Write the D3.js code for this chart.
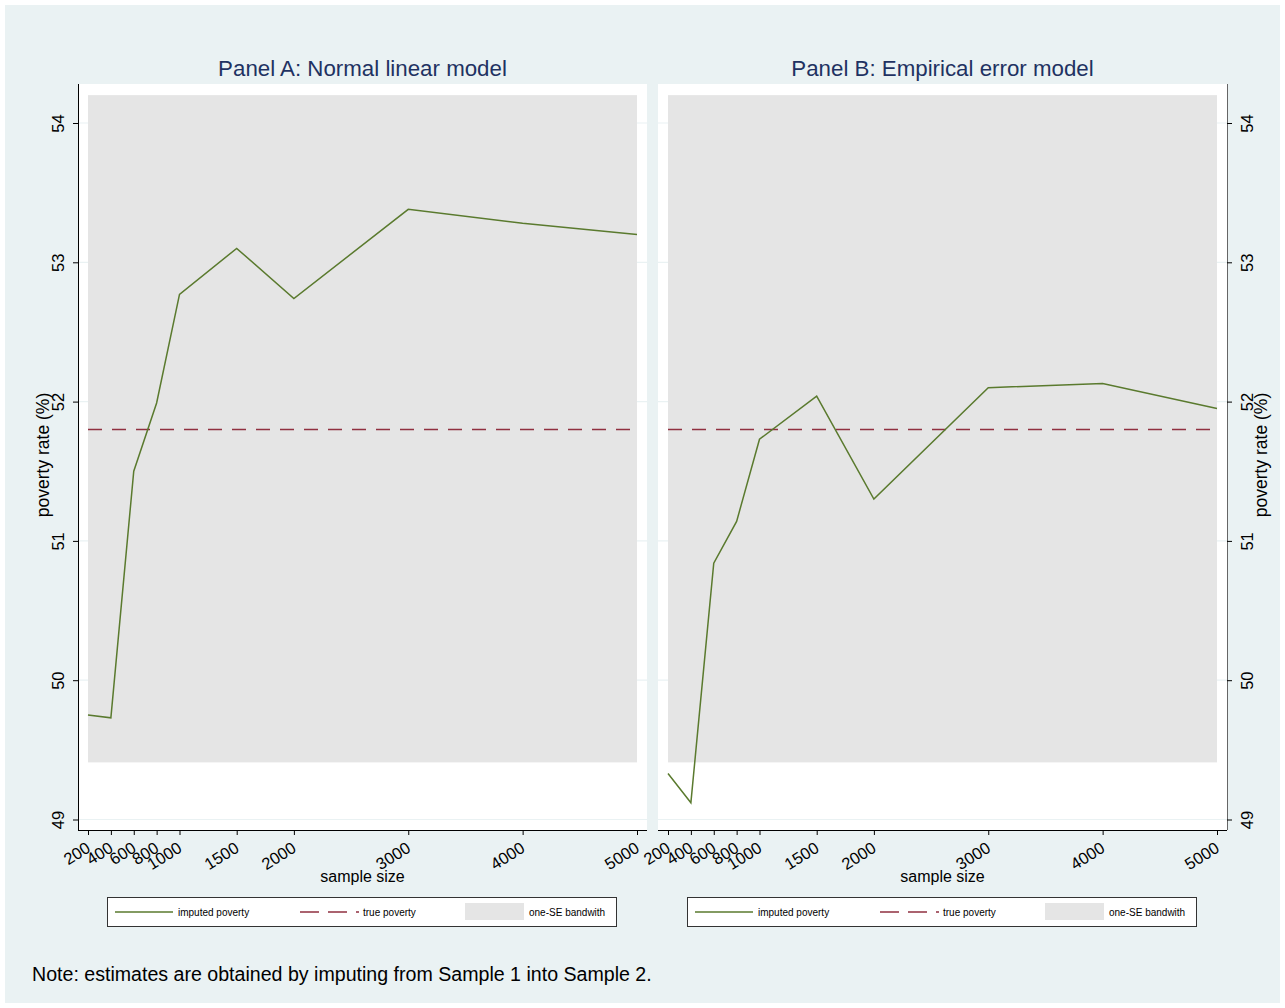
<html lang="en">
<head>
<meta charset="UTF-8">
<title>Imputed poverty by sample size</title>
<script src="https://d3js.org/d3.v7.min.js"></script>
<style>
  body { margin: 0; background: #fff; font-family: "Liberation Sans", Arial, sans-serif; }
</style>
</head>
<body>
<div id="chart"></div>
<script>

// values
const sampleSizes = [200, 400, 600, 800, 1000, 1500, 2000, 3000, 4000, 5000];
const panelA = [49.75, 49.73, 51.50, 51.99, 52.77, 53.10, 52.74, 53.38, 53.28, 53.20];
const panelB = [49.33, 49.12, 50.84, 51.14, 51.73, 52.04, 51.30, 52.10, 52.13, 51.95];
const yTicks = [49, 50, 51, 52, 53, 54];
const truePoverty = 51.8;
const band = [49.41, 54.2];
const panelTitles = ["Panel A: Normal linear model", "Panel B: Empirical error model"];
const legendLabels = ["imputed poverty", "true poverty", "one-SE bandwith"];

const green = "#5a7a2e", maroon = "#903040", bandGrey = "#e5e5e5", bg = "#eaf2f3";

const svg = d3.select("#chart").append("svg")
  .attr("width", 1285)
  .attr("height", 1008);

svg.append("rect")
  .attr("x", 5).attr("y", 5)
  .attr("width", 1275).attr("height", 998)
  .attr("fill", bg);

function drawPanel(i, values, left, right, axisSide) {
  // plot region box
  const top = 84, bottom = 830;
  const x = d3.scaleLinear().domain([200, 5000]).range([left + 10, right - 10]);
  const y = d3.scaleLinear().domain([49, 54]).range([819.5, 123]);

  const g = svg.append("g");

  g.append("rect")
    .attr("x", left).attr("y", top)
    .attr("width", right - left).attr("height", bottom - top)
    .attr("fill", "#fff");

  // grid
  g.selectAll(".grid").data(yTicks).enter().append("line")
    .attr("x1", left).attr("x2", right)
    .attr("y1", d => y(d)).attr("y2", d => y(d))
    .attr("stroke", bg).attr("stroke-width", 1.2);

  // one-SE band
  g.append("rect")
    .attr("x", x(200)).attr("y", y(band[1]))
    .attr("width", x(5000) - x(200)).attr("height", y(band[0]) - y(band[1]))
    .attr("fill", bandGrey);

  // true poverty
  g.append("line")
    .attr("x1", x(200)).attr("x2", x(5000))
    .attr("y1", y(truePoverty)).attr("y2", y(truePoverty))
    .attr("stroke", maroon).attr("stroke-width", 1.5)
    .attr("stroke-dasharray", "14,10");

  // imputed poverty
  const line = d3.line().x((d, k) => x(sampleSizes[k])).y(d => y(d));
  g.append("path")
    .datum(values)
    .attr("d", line)
    .attr("fill", "none")
    .attr("stroke", green)
    .attr("stroke-width", 1.5);

  // x axis
  const xAxis = g.append("g")
    .attr("transform", `translate(0, ${bottom})`)
    .call(d3.axisBottom(x).tickValues(sampleSizes).tickSize(5).tickSizeOuter(0).tickFormat(d3.format("d")));
  xAxis.select(".domain").attr("d", `M${left},0.5H${right}`).attr("stroke", "#000");
  xAxis.selectAll(".tick line").attr("stroke", "#000");
  xAxis.selectAll(".tick text")
    .attr("font-family", "Liberation Sans, Arial, sans-serif")
    .attr("font-size", 16.5)
    .attr("fill", "#000")
    .attr("text-anchor", "end")
    .attr("dy", 0)
    .attr("y", 0)
    .attr("transform", "translate(3, 21) rotate(-32)");

  g.append("text")
    .attr("x", (left + right) / 2).attr("y", 882)
    .attr("text-anchor", "middle")
    .attr("font-size", 16)
    .text("sample size");

  // y axis
  const axisX = axisSide === "left" ? left : right;
  const yAxis = g.append("g")
    .attr("transform", `translate(${axisX}, 0)`)
    .call((axisSide === "left" ? d3.axisLeft(y) : d3.axisRight(y))
      .tickValues(yTicks).tickSize(5).tickSizeOuter(0).tickFormat(d3.format("d")));
  yAxis.select(".domain").attr("d", `M0.5,${top}V${bottom}`)
    .attr("stroke", axisSide === "left" ? "#000" : "#666");
  yAxis.selectAll(".tick line").attr("stroke", "#000");
  const s = axisSide === "left" ? -1 : 1;
  yAxis.selectAll(".tick text")
    .attr("font-family", "Liberation Sans, Arial, sans-serif")
    .attr("font-size", 16.5)
    .attr("fill", "#000")
    .attr("x", 0).attr("dy", 0)
    .attr("text-anchor", "middle")
    .attr("transform", `translate(${s * 14}, 0) rotate(-90)`)
    .attr("y", axisSide === "left" ? 0 : 12);

  const labelX = axisSide === "left" ? 49 : 1267;
  g.append("text")
    .attr("transform", `translate(${labelX}, 455) rotate(-90)`)
    .attr("text-anchor", "middle")
    .attr("font-size", 17.5)
    .text("poverty rate (%)");

  // title
  g.append("text")
    .attr("x", (x(200) + x(5000)) / 2).attr("y", 76)
    .attr("text-anchor", "middle")
    .attr("font-size", 22.3)
    .attr("fill", "#1f3262")
    .text(panelTitles[i]);

  // legend
  const lx = x(200) + 19, ly = 897;
  const lg = g.append("g").attr("transform", `translate(${lx}, ${ly})`);
  lg.append("rect")
    .attr("x", 0.5).attr("y", 0.5).attr("width", 509).attr("height", 29)
    .attr("fill", "#fff").attr("stroke", "#333").attr("stroke-width", 1);
  lg.append("line").attr("x1", 8).attr("x2", 66).attr("y1", 15).attr("y2", 15)
    .attr("stroke", green).attr("stroke-width", 1.3);
  lg.append("line").attr("x1", 193).attr("x2", 252).attr("y1", 15).attr("y2", 15)
    .attr("stroke", maroon).attr("stroke-width", 1.3).attr("stroke-dasharray", "19,9");
  lg.append("rect").attr("x", 358).attr("y", 6).attr("width", 59).attr("height", 17)
    .attr("fill", bandGrey);
  const lt = [71, 256, 422];
  lg.selectAll(".lt").data(legendLabels).enter().append("text")
    .attr("x", (d, k) => lt[k]).attr("y", 18.5)
    .attr("font-size", 10)
    .text(d => d);
}

drawPanel(0, panelA, 78, 647, "left");
drawPanel(1, panelB, 658, 1227, "right");

svg.append("text")
  .attr("x", 32).attr("y", 981)
  .attr("font-size", 19.6)
  .text("Note: estimates are obtained by imputing from Sample 1 into Sample 2.");

</script>
</body>
</html>
